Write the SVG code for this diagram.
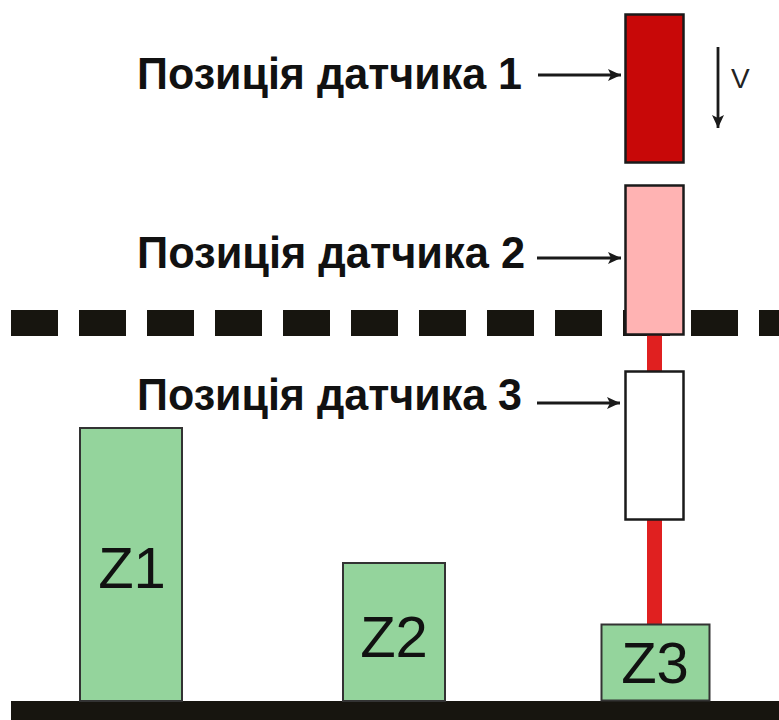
<svg xmlns="http://www.w3.org/2000/svg" width="779" height="720" viewBox="0 0 779 720">
<style>
.lbl{font-family:"Liberation Sans",Arial,sans-serif;font-weight:bold;font-size:45px;fill:#111;}
.z{font-family:"Liberation Sans",Arial,sans-serif;font-size:58px;fill:#111;text-anchor:middle;}
.block{fill:#94d49c;stroke:#333;stroke-width:2;}
.sensor{stroke:#1a1a1a;stroke-width:2.5;}
.arr{stroke:#1a1a1a;stroke-width:2.8;fill:none;marker-end:url(#ah);}
</style>
<defs>
<marker id="ah" viewBox="0 0 13 12" refX="13" refY="6" markerWidth="13" markerHeight="12" markerUnits="userSpaceOnUse" orient="auto">
<path d="M0,0 L13,6 L0,12 L3,6 Z" fill="#1a1a1a"/>
</marker>
</defs>
<rect width="779" height="720" fill="#fff"/>
<g id="ground"><rect x="11" y="701" width="768" height="19" fill="#17150f"/></g>
<g id="dashline"><line x1="11" y1="323" x2="779" y2="323" stroke="#17150f" stroke-width="26" stroke-dasharray="47 21"/></g>
<g id="rod"><rect x="647" y="330" width="15" height="296" fill="#e02020"/></g>
<g id="z1"><rect class="block" x="80" y="428" width="102" height="273"/><text class="z" x="132" y="588">Z1</text></g>
<g id="z2"><rect class="block" x="343" y="563" width="102" height="138"/><text class="z" x="394" y="657">Z2</text></g>
<g id="z3"><rect class="block" x="601.5" y="624.5" width="108" height="76" stroke="#111" stroke-width="3.5"/><text class="z" x="655" y="683">Z3</text></g>
<g id="sensor1"><rect class="sensor" x="625.5" y="14.5" width="58" height="148" fill="#c80808"/></g>
<g id="sensor2"><rect class="sensor" x="625.5" y="185.5" width="58" height="149" fill="#ffb3b3"/></g>
<g id="sensor3"><rect class="sensor" x="625.5" y="371.5" width="58" height="148" fill="#fff"/></g>
<g id="label1"><text class="lbl" x="137" y="89" textLength="385" lengthAdjust="spacingAndGlyphs">Позиція датчика 1</text></g>
<g id="label2"><text class="lbl" x="137" y="268" textLength="388" lengthAdjust="spacingAndGlyphs">Позиція датчика 2</text></g>
<g id="label3"><text class="lbl" x="137" y="410" textLength="385" lengthAdjust="spacingAndGlyphs">Позиція датчика 3</text></g>
<g id="velocity"><text x="731" y="88" font-family="Liberation Sans,Arial,sans-serif" font-size="28" fill="#222">V</text></g>
<g id="connectors">
<line class="arr" x1="538" y1="75" x2="621" y2="75"/>
<line class="arr" x1="537" y1="258" x2="621" y2="258"/>
<line class="arr" x1="537" y1="403" x2="620" y2="403"/>
<line class="arr" x1="718" y1="47" x2="718" y2="128"/>
</g>
</svg>
